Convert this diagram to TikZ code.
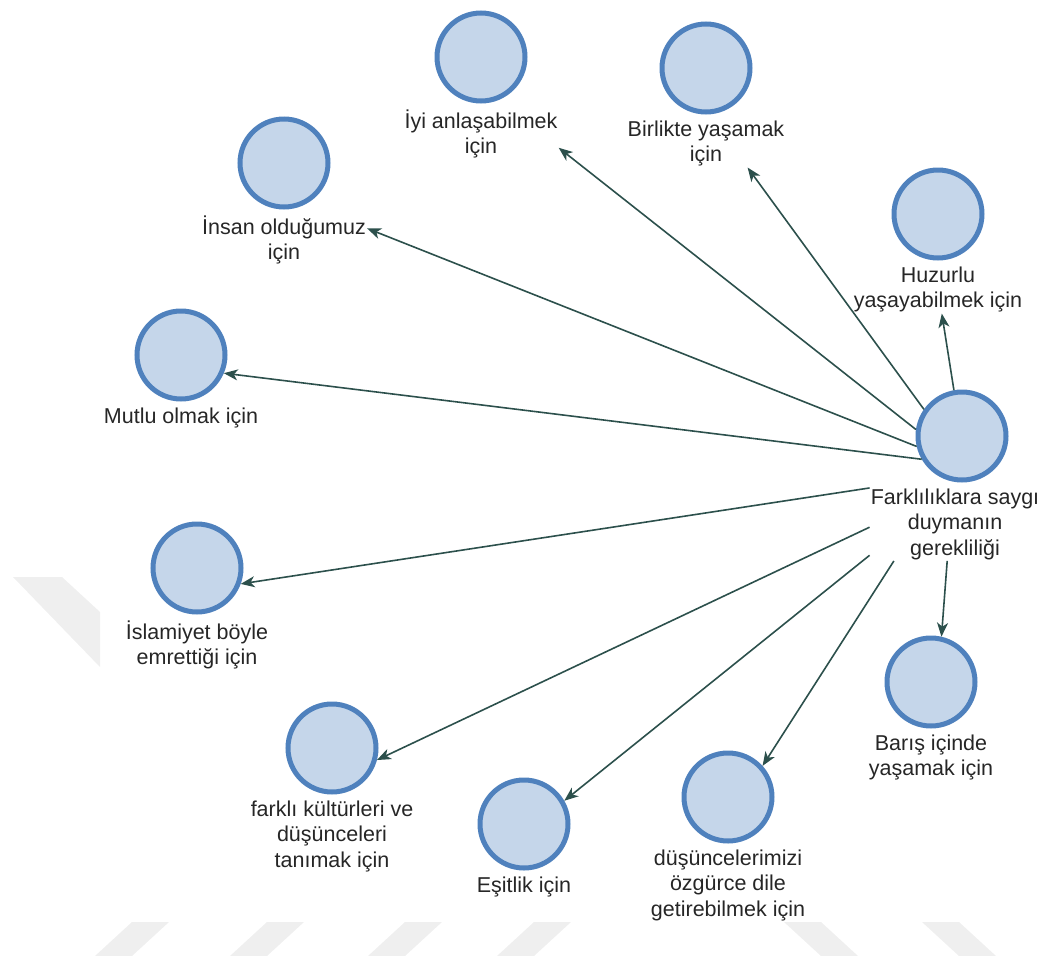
\documentclass[tikz,border=0pt]{standalone}
\usepackage{fontspec}
\setmainfont{Liberation Sans}
\usetikzlibrary{positioning,arrows.meta}
\definecolor{kfill}{RGB}{197,214,234}
\definecolor{kline}{RGB}{79,129,189}
\definecolor{okc}{RGB}{44,80,76}
\definecolor{wm}{RGB}{239,239,239}
\tikzset{
  kavram/.style={circle, draw=kline, fill=kfill, line width=5pt, minimum size=88pt, inner sep=0pt},
  etiket/.style={align=center, inner sep=1pt, text=black!85, font=\fontsize{21.5}{25.5}\selectfont},
  ok/.style={draw=okc, line width=1.6pt, -{Stealth[length=14pt,width=11pt,inset=4pt]}}
}

\begin{document}
\begin{tikzpicture}[x=1pt,y=-1pt]
    \useasboundingbox (0,0) rectangle (1053,956);
    % filigran
    \fill[wm] (13,577) -- (62,577) -- (100,612) -- (100,667) -- cycle;
    \foreach \a in {95,230,368,497} \fill[wm] (\a,956) -- (\a+37,922) -- (\a+74,922) -- (\a+37,956) -- cycle;
    \foreach \a in {784,922} \fill[wm] (\a,922) -- (\a+37,922) -- (\a+74,956) -- (\a+37,956) -- cycle;

    \node[kavram] (ana) at (962,436) {};
    \node[etiket, below=5pt of ana, xshift=-7pt] (anat) {Farklılıklara saygı\\duymanın\\gerekliliği};
    \node[kavram] (iyi) at (481,57) {};
    \node[etiket, below=5pt of iyi] (iyit) {İyi anlaşabilmek\\için};
    \node[kavram] (bir) at (706,68) {};
    \node[etiket, below=5pt of bir] (birt) {Birlikte yaşamak\\için};
    \node[kavram] (ins) at (284,163) {};
    \node[etiket, below=5pt of ins] (inst) {İnsan olduğumuz\\için};
    \node[kavram] (huz) at (938,214) {};
    \node[etiket, below=5pt of huz] (huzt) {Huzurlu\\yaşayabilmek için};
    \node[kavram] (mut) at (181,355) {};
    \node[etiket, below=5pt of mut] (mutt) {Mutlu olmak için};
    \node[kavram] (isl) at (197,568) {};
    \node[etiket, below=5pt of isl] (islt) {İslamiyet böyle\\emrettiği için};
    \node[kavram] (bar) at (931,682) {};
    \node[etiket, below=5pt of bar] (bart) {Barış içinde\\yaşamak için};
    \node[kavram] (kul) at (332,748) {};
    \node[etiket, below=5pt of kul] (kult) {farklı kültürleri ve\\düşünceleri\\tanımak için};
    \node[kavram] (esi) at (524,824) {};
    \node[etiket, below=5pt of esi] (esit) {Eşitlik için};
    \node[kavram] (ozg) at (728,797) {};
    \node[etiket, below=5pt of ozg] (ozgt) {düşüncelerimizi\\özgürce dile\\getirebilmek için};

    \draw[ok] (ana.100) -- (huzt);
    \draw[ok] (ana.145) -- (birt.-30);
    \draw[ok] (ana.172) -- (iyit.-10);
    \draw[ok] (ana.193) -- (inst.8);
    \draw[ok] (ana.210) -- (mut.-23);
    \draw[ok] (anat.157) -- (isl.-20);
    \draw[ok] (anat.182) -- (kul.-15);
    \draw[ok] (anat.200) -- (esi.30);
    \draw[ok] (anat.211) -- (ozg.42);
    \draw[ok] (anat.258) -- (bar.77);
\end{tikzpicture}
\end{document}
